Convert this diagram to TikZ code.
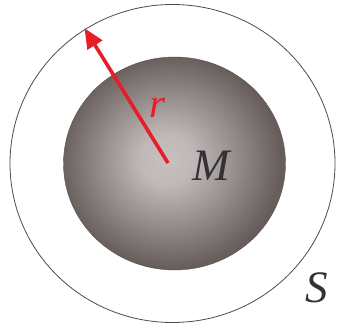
\documentclass[tikz,border=0pt]{standalone}
\usepackage{fontspec}
\setmainfont{Liberation Serif}
\usetikzlibrary{shapes.geometric,arrows.meta}
\definecolor{ballin}{HTML}{C8C0BF}
\definecolor{ballout}{HTML}{675E5C}
\definecolor{arrred}{HTML}{E51E2A}
\definecolor{ringcol}{HTML}{4A4A4A}
\definecolor{labcol}{HTML}{333038}
\pgfdeclareradialshading{massball}{\pgfpoint{-2bp}{1bp}}{color(0bp)=(ballin); color(6bp)=(ballin!92!ballout); color(25bp)=(ballout); color(50bp)=(ballout)}
\tikzset{
  ring/.style={ellipse, draw=ringcol, line width=0.8pt, inner sep=0pt},
  mass/.style={ellipse, shading=massball, draw=ballout!85!black, line width=0.4pt, inner sep=0pt},
  lab/.style={font=\itshape\fontsize{45}{45}\selectfont, text=labcol, inner sep=0pt},
  radarrow/.style={draw=arrred, line width=3.6pt, -{Triangle[length=20pt,width=17pt]}, shorten >=-1pt}
}
\begin{document}
\begin{tikzpicture}[x=1pt,y=-1pt]
\useasboundingbox (0,0) rectangle (338,329);
\node[ring, minimum width=325pt, minimum height=318pt] (S) at (172.5,163.5) {};
\node[mass, minimum width=222pt, minimum height=213pt] (M) at (174.5,163.5) {};
\coordinate (c) at (168,163);
\coordinate (tip) at (85,29);
\draw[radarrow] (c) -- (tip);
\node[lab, text=arrred, font=\itshape\fontsize{41}{41}\selectfont] (rl) at (157,108) {r};
\node[lab] (Ml) at (211,166) {M};
\node[lab] (Sl) at (317,288) {S};
\end{tikzpicture}
\end{document}
